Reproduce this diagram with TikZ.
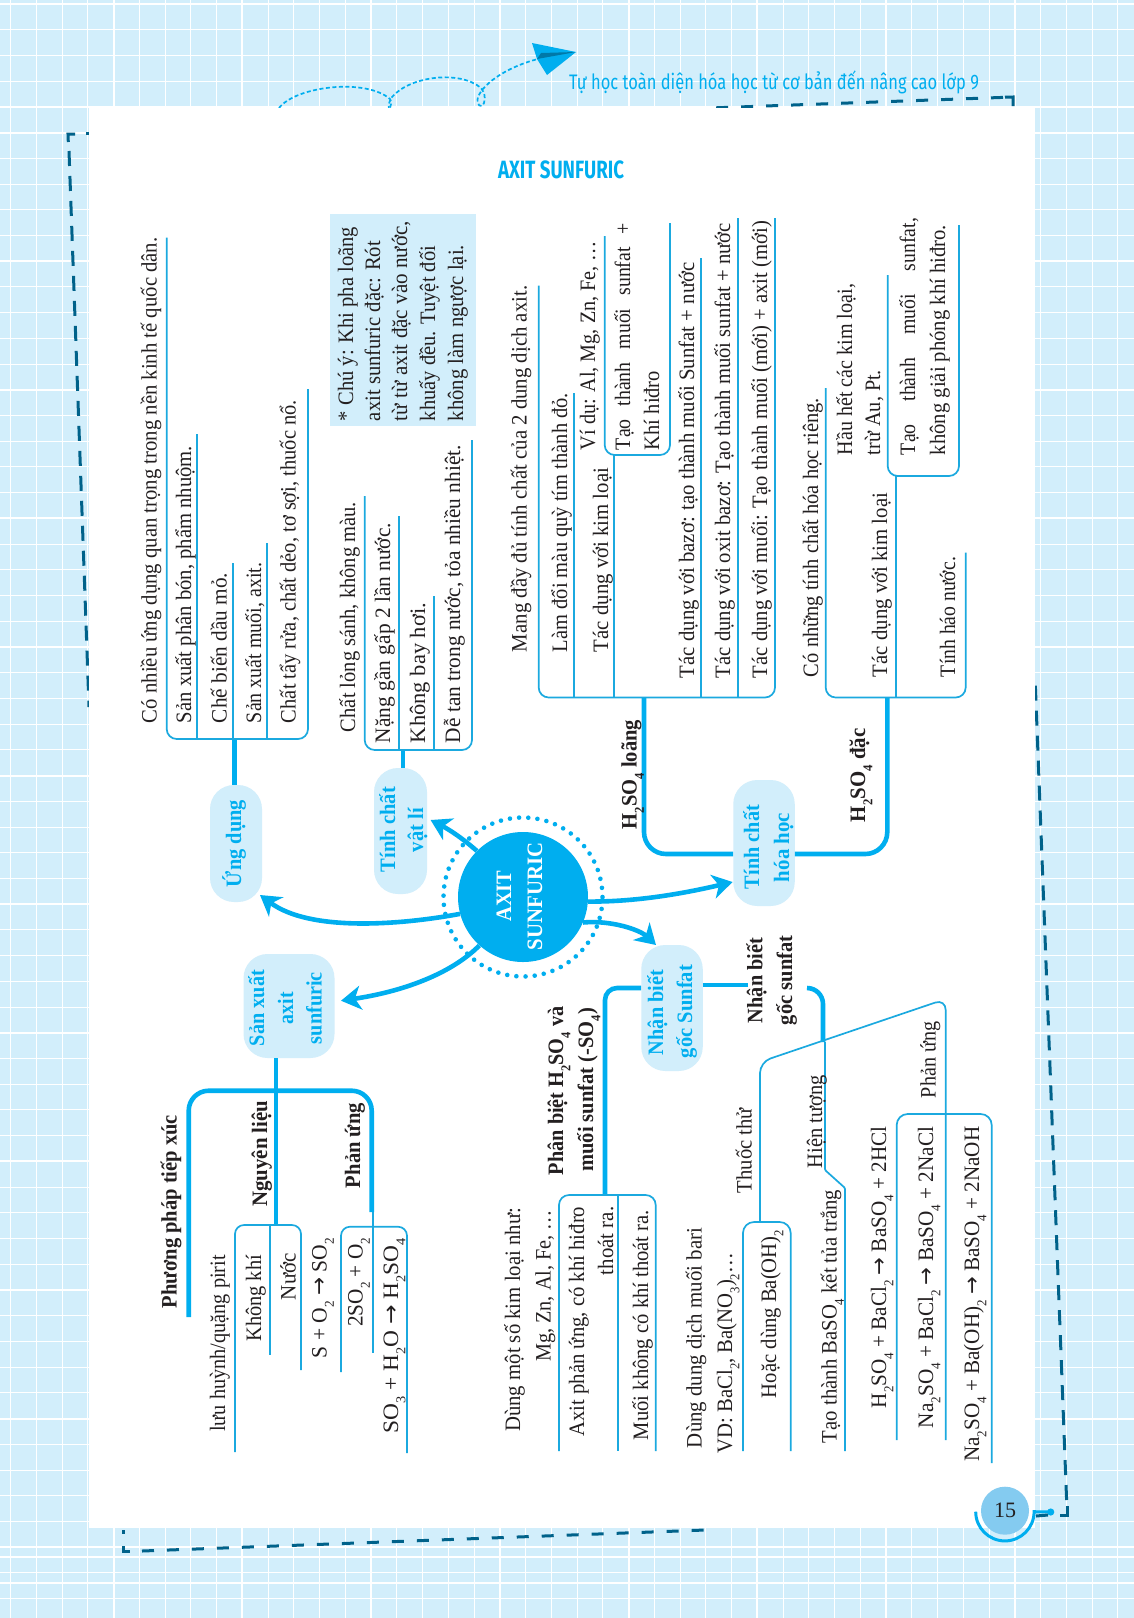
\documentclass[tikz,border=0pt]{standalone}
\usepackage{fontspec}
\usetikzlibrary{arrows.meta,calc}
\setmainfont{Liberation Serif}
\newfontfamily\hdfont{Fira Sans}
\newfontfamily\arfont{DejaVu Sans}
\definecolor{bgc}{HTML}{D2EEFB}
\definecolor{linec}{HTML}{1BA9DF}
\definecolor{thickc}{HTML}{00AEEF}
\definecolor{framec}{HTML}{00628A}
\definecolor{pagec}{HTML}{84CBF0}
\definecolor{inkc}{HTML}{231F20}
\newsavebox\fitbox
\newcount\tcnt
\newcommand\dn[1]{\raisebox{-.33em}{\fontsize{13.5}{13.5}\selectfont #1}}
\newcommand\ar{{\arfont →}}
\newcommand\fit[2]{\sbox\fitbox{#2}\pgfmathsetmacro\fitf{(#1)/\the\wd\fitbox}\scalebox{\fitf}[1]{\usebox\fitbox}}
\newcommand\T[5][]{\global\advance\tcnt by 1
  \node[txt,#1,name=tx\the\tcnt] at (#2,#3) {\fit{#3-#4}{#5}};}
\newcommand\B[4]{\T{#1}{#2}{#3}{\bfseries #4}}
\newcommand\C[4]{\T{#1}{#2}{#3}{\color{thickc}\bfseries #4}}
\tikzset{
  txt/.style={rotate=90,anchor=base west,inner sep=0pt,outer sep=0pt,text=inkc,font=\fontsize{22}{22}\selectfont},
  flat/.style={anchor=base west,inner sep=0pt,outer sep=0pt,font=\hdfont},
  thin line/.style={draw=linec,line width=1.7pt},
  thick line/.style={draw=thickc,line width=4.6pt},
  pill/.style={fill=bgc,rounded corners=24pt,inner sep=0pt},
  big arrow/.style={draw=thickc,line width=4.6pt,-{Stealth[length=20pt,width=24pt,inset=6pt]}},
  frame line/.style={draw=framec,line width=3pt},
  frame dash/.style={frame line,dash pattern=on 15pt off 10pt},
  low dash/.style={frame line,dash pattern=on 12pt off 13pt},
  loop line/.style={draw=thickc,line width=1.7pt,dash pattern=on 4pt off 2.5pt},
}
\begin{document}
\begin{tikzpicture}[x=1pt,y=-1pt]
\useasboundingbox (0,0) rectangle (1134,1618);
\fill[bgc] (0,0) rectangle (1134,1618);
% grid
\foreach \k in {0,...,62}{
  \pgfmathsetmacro\yy{4+25.72*\k}
  \pgfmathtruncatemacro\mm{mod(\k,5)}
  \ifnum\mm=0 \draw[white,line width=2pt] (0,\yy) -- (1134,\yy);
  \else \draw[white,line width=1pt] (0,\yy) -- (1134,\yy); \fi}
\foreach \yy in {107,1557,1583}{\draw[white,line width=2pt] (0,\yy) -- (1134,\yy);}
\foreach \k in {0,...,44}{
  \pgfmathsetmacro\xx{10.5+25.75*\k}
  \pgfmathtruncatemacro\mm{mod(\k,5)}
  \ifnum\mm=4 \draw[white,line width=2pt] (\xx,0) -- (\xx,1618);
  \else \draw[white,line width=1pt] (\xx,0) -- (\xx,1618); \fi}
% dashed frame
\draw[frame line] (75,134) -- (68,134) -- (68.3,142);
\draw[frame line] (86,133) -- (90,133);
\draw[frame dash] (69,151) -- (89,707);
\draw[low dash] (1003,97.4) -- (710,108);
\draw[frame line] (1005,97.2) -- (1013,97) -- (1013,106);
\draw[frame dash] (1066.6,1500) -- (1035,676);
\draw[frame line] (1067,1506) -- (1067,1515) -- (1060,1515);
\draw[frame line] (123,1546) -- (123,1551) -- (130,1551);
\draw[frame line] (123,1530) -- (123,1534);
\draw[low dash] (142,1551) -- (705,1530);
% paper plane trail
\draw[loop line] (279,108) .. controls (296,86) and (366,78) .. (390,99) .. controls (392,102) and (391,106) .. (389,110);
\draw[loop line] (389,110) .. controls (388,104) and (390,100) .. (392,97) .. controls (410,76) and (460,70) .. (481,88)
  .. controls (484,92) and (486,97) .. (484,103) .. controls (481,110) and (476,104) .. (478,97) .. controls (484,82) and (510,66) .. (538,59);
\fill[thickc] (532,43) -- (576,52) -- (547,75) -- (537,59) -- cycle;
\fill[framec!70!thickc] (537,59) -- (576,52) -- (541,53) -- cycle;
% page
\fill[white] (89,108) rectangle (1035,1528);
\node[flat,text=thickc,name=header,font=\hdfont\fontsize{21}{21}\selectfont] at (569,89) {\fit{410}{Tự học toàn diện hóa học từ cơ bản đến nâng cao lớp 9}};
\node[flat,text=thickc,name=title,font=\hdfont\bfseries\fontsize{25}{25}\selectfont] at (498,178.5) {\fit{126}{AXIT SUNFURIC}};
% pills and centre
\node[pill,minimum width=52pt,minimum height=117pt,name=pu] at (236,843.5) {};
\node[pill,minimum width=53pt,minimum height=126pt,name=pv] at (400.5,831) {};
\node[pill,minimum width=61.5pt,minimum height=126pt,name=ph] at (764,843) {};
\node[pill,minimum width=61.5pt,minimum height=126pt,name=pn] at (672,1008) {};
\node[pill,minimum width=91pt,minimum height=104pt,name=ps] at (289,1006) {};
\node[circle,fill=thickc,minimum size=130pt,inner sep=0pt,name=axit] at (523,897) {};
\draw[thickc,line width=4.6pt,line cap=round,dash pattern=on 0pt off 9.2pt] (523,897) circle[radius=79.5pt];
% arrows
\coordinate (eu) at (260,895);
\coordinate (ev) at (430.6,820);
\coordinate (eh) at (732.6,882);
\coordinate (en) at (656,945);
\coordinate (es) at (341,1000.7);
\draw[big arrow] (axit.195) .. controls (400,925) and (310,932) .. (eu);
\draw[big arrow] (axit.135) .. controls (462,838) and (450,830) .. (ev);
\draw[big arrow] (axit.-4) .. controls (640,902) and (690,892) .. (eh);
\draw[big arrow] (axit.-23) .. controls (612,920) and (640,930) .. (en);
\draw[big arrow] (axit.228) .. controls (450,975) and (400,992) .. (es);
% Ung dung
\coordinate (bu) at (234.3,739);
\draw[thick line] (pu.north -| bu) -- (bu);
\draw[thin line,rounded corners=10pt] (166.7,237.5) -- (166.7,739) -- (308,739) -- (308,389);
\draw[thin line] (197,739) -- (197,434);
\draw[thin line] (232.7,739) -- (232.7,562.5);
\draw[thin line] (266.7,739) -- (266.7,543);
\T{156.7}{723}{237.5}{Có nhiều ứng dụng quan trọng trong nền kinh tế quốc dân.}
\T{191}{723}{446}{Sản xuất phân bón, phẩm nhuộm.}
\T{226.7}{723}{573}{Chế biến dầu mỏ.}
\T{261}{723}{562.5}{Sản xuất muối, axit.}
\T{295.7}{723}{400}{Chất tẩy rửa, chất dẻo, tơ sợi, thuốc nổ.}
% Vat li
\coordinate (bv) at (403,750);
\draw[thick line] (pv.north -| bv) -- (bv);
\draw[thin line,rounded corners=10pt] (364.7,496) -- (364.7,750) -- (472,750) -- (472,440);
\draw[thin line] (398.7,750) -- (398.7,516);
\draw[thin line] (433.7,750) -- (433.7,596);
\T{355}{732}{502}{Chất lỏng sánh, không màu.}
\T{390}{743}{523}{Nặng gần gấp 2 lần nước.}
\T{425}{743}{603}{Không bay hơi.}
\T{460}{743}{445}{Dễ tan trong nước, tỏa nhiều nhiệt.}
\node[fill=bgc,minimum width=146pt,minimum height=212pt,inner sep=0pt,name=note] at (403,319.7) {};
\T{353}{421}{227}{* Chú ý: Khi pha loãng}
\T{380}{421}{241}{axit sunfuric đặc: Rót}
\T{407}{421}{221}{từ từ axit đặc vào nước,}
\T{435}{421}{246}{khuấy đều. Tuyệt đối}
\T{463}{421}{245}{không làm ngược lại.}
% Tinh chat hoa hoc
\coordinate (bl) at (644,697.5);
\coordinate (bd) at (887.3,697.5);
\draw[thick line,rounded corners=22pt] (bl) -- (644,854) -- (ph.west |- 0,854);
\draw[thick line,rounded corners=22pt] (bd) -- (887.3,854) -- (ph.east |- 0,854);
\draw[thin line,rounded corners=10pt] (538.7,285.7) -- (538.7,697.5) -- (775,697.5) -- (775,218);
\draw[thin line] (574,697.5) -- (574,393);
\draw[thin line] (614,697.5) -- (614,455);
\draw[thin line] (701,697.5) -- (701,258);
\draw[thin line] (738,697.5) -- (738,218);
\draw[thin line,rounded corners=10pt] (604.7,236) -- (604.7,455) -- (670,455) -- (670,223);
\T{526.7}{652}{285.7}{Mang đầy đủ tính chất của 2 dung dịch axit.}
\T{567}{652}{393}{Làm đổi màu quỳ tím thành đỏ.}
\T{608}{652}{468}{Tác dụng với kim loại}
\T{595}{450}{241}{Ví dụ: Al, Mg, Zn, Fe, …}
\T{630}{450}{223}{Tạo\hspace{.4em} thành\hspace{.4em} muối\hspace{.4em} sunfat\hspace{.4em} +}
\T{659}{450}{371}{Khí hiđro}
\T{694}{678}{262.5}{Tác dụng với bazơ: tạo thành muối Sunfat + nước}
\T{730}{678}{223}{Tác dụng với oxit bazơ: Tạo thành muối sunfat + nước}
\T{767}{678}{221}{Tác dụng với muối: Tạo thành muối (mới) + axit (mới)}
\draw[thin line,rounded corners=10pt] (825.7,388) -- (825.7,697.5) -- (965.7,697.5) -- (965.7,552.5);
\draw[thin line] (895.7,697.5) -- (895.7,476);
\draw[thin line,rounded corners=10pt] (887.7,275) -- (887.7,476) -- (959,476) -- (959,225);
\T{818}{677}{398}{Có những tính chất hóa học riêng.}
\T{852}{455}{284}{Hầu hết các kim loại,}
\T{880}{455}{370}{trừ Au, Pt.}
\T{915}{455}{218}{Tạo\hspace{.9em} thành\hspace{.9em} muối\hspace{.9em} sunfat,}
\T{945}{455}{225}{không giải phóng khí hiđro.}
\T{887}{677}{493}{Tác dụng với kim loại}
\T{955}{677}{557}{Tính háo nước.}
\B{636.7}{829}{720}{H\dn{2}SO\dn{4} loãng}
\B{865}{822}{728.6}{H\dn{2}SO\dn{4} đặc}
% San xuat
\coordinate (bs) at (276,1225);
\draw[thick line] (ps.south -| bs) -- (bs);
\draw[thick line,rounded corners=20pt] (188.7,1317) -- (188.7,1090.7) -- (371.7,1090.7) -- (371.7,1212);
\draw[thin line,rounded corners=9pt] (235,1452) -- (235,1225) -- (301,1225) -- (301,1370);
\draw[thin line] (269.7,1225) -- (269.7,1355);
\draw[thin line,rounded corners=9pt] (341,1372) -- (341,1226.7) -- (407,1226.7) -- (407,1453);
\draw[thin line] (372.7,1212) -- (372.7,1352.7);
\B{176.7}{1308}{1115}{Phương pháp tiếp xúc}
\B{267}{1206.7}{1100.7}{Nguyên liệu}
\B{360}{1188}{1103}{Phản ứng}
\T{225}{1431.7}{1255}{lưu huỳnh/quặng pirit}
\T{261}{1341.7}{1255}{Không khí}
\T{295.7}{1300}{1253}{Nước}
\T{326.7}{1358}{1238}{S + O\dn{2} \ar{} SO\dn{2}}
\T{362.7}{1326.7}{1238}{2SO\dn{2} + O\dn{2}}
\T{398}{1433}{1238}{SO\dn{3} + H\dn{2}O \ar{} H\dn{2}SO\dn{4}}
% Nhan biet
\coordinate (bn) at (605,1195);
\draw[thick line,rounded corners=12pt] (pn.west |- 0,988) -- (605,988) -- (bn);
\draw[thin line,rounded corners=10pt] (559,1451) -- (559,1195) -- (655.7,1195) -- (655.7,1451);
\draw[thin line] (617.7,1195) -- (617.7,1451);
\B{563}{1175}{1006.7}{Phân biệt H\dn{2}SO\dn{4} và}
\B{593}{1171.7}{1008}{muối sunfat (-SO\dn{4})}
\T{520}{1431.7}{1208}{Dùng một số kim loại như:}
\T{550.7}{1361.7}{1210}{Mg, Zn, Al, Fe, …}
\T{584}{1436.7}{1206.7}{Axit phản ứng, có khí hiđro}
\T{613}{1275}{1206.7}{thoát ra.}
\T{648}{1440}{1210}{Muối không có khí thoát ra.}
\coordinate (gsf) at (748,985);
\draw[thick line] (pn.east |- gsf) -- (gsf);
\draw[thick line,rounded corners=16pt] (807,988) -- (823,988) -- (823,1042);
\B{762.4}{1023}{938}{Nhận biết}
\B{792}{1025}{935.7}{gốc sunfat}
\draw[thin line,rounded corners=1pt] (825,1042) -- (825,1170) -- (845,1188) -- (845,1451);
\draw[thin line,rounded corners=11pt] (760,1222) -- (760,1062) -- (945.7,999) -- (945.7,1440);
\draw[thin line,rounded corners=11pt] (743,1451) -- (743,1222) -- (790.7,1222) -- (790.7,1451);
\draw[thin line,rounded corners=11pt] (896.7,1440) -- (896.7,1114) -- (991.7,1114) -- (991.7,1463);
\T{701.7}{1448}{1228}{Dùng dung dịch muối bari}
\T{732}{1453}{1253}{VD: BaCl\dn{2}, Ba(NO\dn{3})\dn{2}…}
\T{776}{1398}{1230}{Hoặc dùng Ba(OH)\dn{2}}
\T{836.7}{1443}{1190}{Tạo thành BaSO\dn{4} kết tủa trắng}
\T{751.7}{1193}{1108}{Thuốc thử}
\T{822}{1168}{1075}{Hiện tượng}
\T{935.7}{1098}{1021.7}{Phản ứng}
\T{886}{1408}{1126.7}{H\dn{2}SO\dn{4} + BaCl\dn{2} \ar{} BaSO\dn{4} + 2HCl}
\T{933}{1428}{1126.7}{Na\dn{2}SO\dn{4} + BaCl\dn{2} \ar{} BaSO\dn{4} + 2NaCl}
\T{979}{1461.7}{1126.7}{Na\dn{2}SO\dn{4} + Ba(OH)\dn{2} \ar{} BaSO\dn{4} + 2NaOH}
% pill labels
\C{241}{887}{800}{Ứng dụng}
\C{395}{872}{787}{Tính chất}
\C{423}{852}{808}{vật lí}
\C{759}{889}{805}{Tính chất}
\C{789}{882}{813}{hóa học}
\C{663}{1055}{970}{Nhận biết}
\C{692}{1058}{965}{gốc Sunfat}
\C{264}{1046}{970}{Sản xuất}
\C{293}{1024}{992}{axit}
\C{321.6}{1044}{972}{sunfuric}
\T{511}{921.7}{870.7}{\color{white}\bfseries AXIT}
\T{542}{950}{842.7}{\color{white}\bfseries SUNFURIC}
% page number
\node[circle,fill=pagec,minimum size=48pt,inner sep=0pt,text=inkc,font=\fontsize{22}{22}\selectfont,name=pg] at (1005,1510.7) {15};
\coordinate (pd) at (1050.7,1512);
\draw[thick line,line width=3pt] (975.7,1511.7) arc[start angle=180,end angle=360,radius=29.2pt] -- (pd);
\fill[thickc] (pd) circle[radius=3.6pt];
\draw[frame line] (1036,1516) -- (1048,1515);
\end{tikzpicture}
\end{document}
